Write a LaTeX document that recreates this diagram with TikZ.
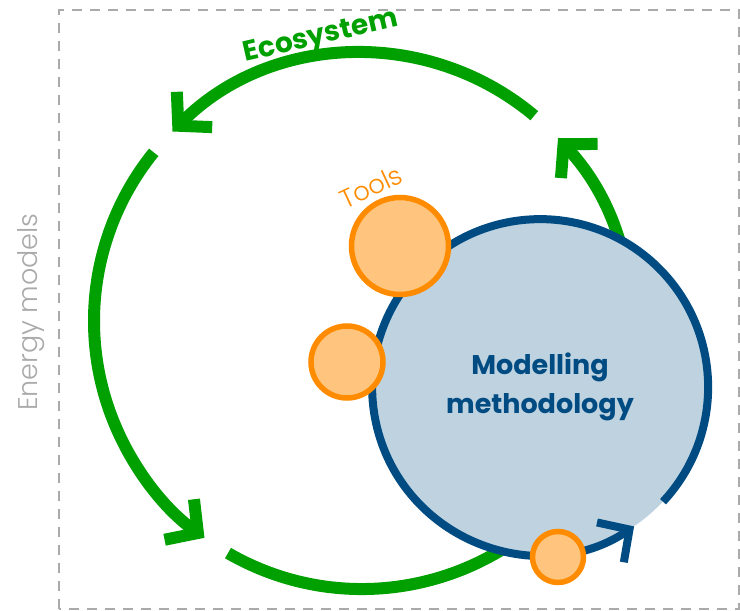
\documentclass[tikz,border=0pt]{standalone}
\usepackage{fontspec}
\setmainfont{Poppins}
\newfontfamily\lightfont{Poppins Light}
\usepackage{tikz}
\usetikzlibrary{arrows.meta,positioning}

\definecolor{ecogreen}{HTML}{00A000}
\definecolor{modblue}{HTML}{004C82}
\definecolor{modfill}{HTML}{BED2E0}
\definecolor{toolorange}{HTML}{FF8C00}
\definecolor{toolfill}{HTML}{FFC57F}
\definecolor{framegray}{HTML}{AAAAAA}

\begin{document}
\begin{tikzpicture}[
  x=1pt, y=1pt,
  ecoarrow/.style={draw=ecogreen, line width=12pt, -{Straight Barb[sharp, length=23pt, width=50pt]}},
  modarrow/.style={draw=modblue, line width=8pt, -{Straight Barb[sharp, length=23pt, width=48pt]}},
  tool/.style={circle, draw=toolorange, fill=toolfill, line width=5.5pt, inner sep=0pt},
]
\useasboundingbox (0,0) rectangle (740,611);
\draw[framegray, line width=2.5pt, dash pattern=on 10pt off 8pt] (59,2) rectangle (739,601);
\node[framegray, rotate=90, font=\lightfont\fontsize{27}{30}\selectfont] (energy) at (31,299) {Energy models};

% ecosystem ring
\coordinate (eco) at (362,290);
\draw[ecoarrow] ([shift={(50:268)}]eco) arc[start angle=50, end angle=135, radius=268];
\draw[ecoarrow] ([shift={(141:268)}]eco) arc[start angle=141, end angle=234, radius=268];
\draw[ecoarrow] ([shift={(240:268)}]eco) arc[start angle=240, end angle=403, radius=268];
\node[ecogreen, rotate=13, font=\bfseries\fontsize{28}{30}\selectfont] (ecolabel) at (321,573) {Ecosystem};

% methodology
\node[circle, fill=modfill, minimum size=336pt, inner sep=0pt, align=center,
  text=modblue, font=\bfseries\fontsize{27}{39}\selectfont] (method) at (540,224) {Modelling\\methodology};
\draw[modarrow] (method.-43) arc[start angle=-43, end angle=304, radius=168];

% tools
\node[tool, minimum size=97pt] (tool1) at (400,365) {};
\node[tool, minimum size=72pt] (tool2) at (347,249) {};
\node[tool, minimum size=51pt] (tool3) at (558,54) {};
\node[toolorange, rotate=25, font=\lightfont\fontsize{26}{28}\selectfont] (toollabel) at (371,424) {Tools};
\end{tikzpicture}
\end{document}
